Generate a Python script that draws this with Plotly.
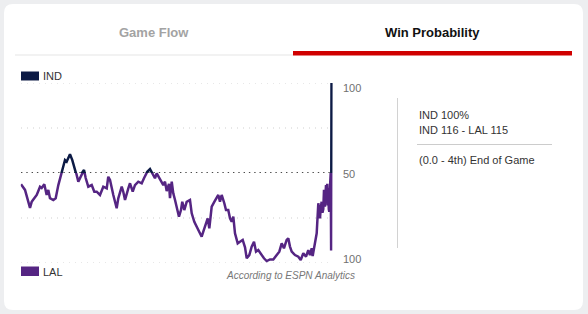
import plotly.graph_objects as go

# ---------------- data ----------------
teams = ["IND", "LAL"]
team_colors = ["#0c1a45", "#552583"]

# game clock elapsed (minutes) and IND win probability (%)
minutes = [
    0.00, 0.62, 1.39, 1.65, 1.85, 2.43, 2.94, 3.20, 3.60, 3.97, 4.22, 4.48, 4.99, 5.36,
    5.77, 6.03, 6.29, 6.80, 7.06, 7.57, 7.93, 8.35, 8.86, 9.38, 9.74, 10.00, 10.40, 10.93,
    11.33, 11.70, 12.21, 12.72, 13.25, 13.49, 13.76, 14.27, 14.79, 15.04, 15.57, 15.81,
    16.08, 16.59, 16.85, 17.27, 17.62, 18.13, 18.66, 19.01, 19.52, 19.94, 20.36, 20.71,
    20.98, 21.49, 22.00, 22.26, 22.52, 22.88, 23.03, 23.30, 23.54, 23.81, 24.22, 24.42,
    24.73, 24.93, 25.24, 25.61, 26.12, 26.39, 26.79, 27.16, 27.41, 27.93, 28.18, 28.55,
    28.86, 29.11, 29.48, 29.88, 30.25, 30.50, 30.76, 31.02, 31.43, 31.69, 32.04, 32.31,
    32.57, 32.82, 33.08, 33.50, 33.85, 34.27, 34.63, 34.89, 35.29, 35.66, 36.02, 36.33,
    36.68, 37.21, 37.56, 37.98, 38.49, 39.00, 39.53, 39.93, 40.30, 40.65, 41.07, 41.32,
    41.58, 41.85, 42.36, 42.87, 43.24, 43.64, 44.06, 44.41, 44.67, 44.94, 45.09, 45.45,
    45.71, 45.96, 46.10, 46.22, 46.35, 46.48, 46.60, 46.73, 46.84, 46.99, 47.07, 47.15,
    47.26, 47.34, 47.41, 47.50, 47.58, 47.66, 47.73, 47.80, 47.88, 47.94, 48.00,
]
ind_prob = [
    43.7, 40.6, 30.6, 34.0, 35.0, 37.8, 42.4, 41.7, 43.7, 37.8, 40.6, 36.0, 35.0, 36.0,
    43.3, 47.2, 50.7, 57.2, 56.3, 60.4, 57.2, 52.6, 45.2, 49.8, 51.7, 47.2, 42.4, 43.3,
    39.6, 39.6, 37.8, 42.4, 41.5, 47.9, 46.1, 37.8, 30.4, 35.9, 42.4, 39.6,
    35.0, 41.5, 44.3, 39.6, 43.3, 45.2, 44.3, 47.1, 50.7, 52.2, 49.8, 47.1,
    49.8, 46.1, 43.3, 45.2, 40.0, 44.0, 36.0, 45.2, 38.7, 35.0, 27.6, 25.7,
    29.4, 34.0, 29.4, 34.0, 35.0, 27.6, 22.9, 20.2, 18.3, 14.6, 17.4, 21.1,
    24.8, 19.3, 31.3, 34.0, 35.9, 37.8, 34.0, 37.8, 33.2, 29.4, 29.4, 24.8,
    22.9, 25.7, 16.5, 10.9, 11.8, 12.8, 8.7, 2.6, 4.4, 9.1, 11.8, 6.3,
    7.2, 4.4, 2.6, 1.1, 2.0, 2.0, 4.4, 6.3, 10.9, 8.2, 12.8, 13.7,
    9.1, 6.3, 4.4, 3.5, 1.7, 5.4, 3.5, 7.2, 4.4, 8.2, 3.9, 12.8,
    16.5, 33.2, 27.0, 24.8, 31.0, 34.0, 28.0, 30.0, 40.6, 31.3, 38.0, 43.3,
    36.0, 44.0, 32.0, 41.5, 30.0, 28.5, 40.0, 45.0, 50.0, 7.0, 100.0,
]

tab_labels = ["Game Flow", "Win Probability"]
axis_labels = ["100", "50", "100"]
info_lines = ["IND 100%", "IND 116 - LAL 115", "(0.0 - 4th) End of Game"]
source_note = "According to ESPN Analytics"

# ---------------- layout helpers ----------------
W, H = 588, 314
FONT = "Liberation Sans, Arial, sans-serif"


def px(x):
    return x / W


def py(y):
    return 1 - y / H


fig = go.Figure()

# IND half (above 50) and LAL half (below 50): same series, clipped per subplot
fig.add_trace(go.Scatter(x=minutes, y=ind_prob, mode="lines", xaxis="x", yaxis="y",
                         line=dict(color=team_colors[0], width=2.5),
                         hoverinfo="skip", showlegend=False))
fig.add_trace(go.Scatter(x=minutes, y=ind_prob, mode="lines", xaxis="x", yaxis="y2",
                         line=dict(color=team_colors[1], width=2.5),
                         hoverinfo="skip", showlegend=False))

shapes = []

# white rounded card
x0, x1 = px(4), px(583)
yt, yb = py(4), py(310)
rx, ry = 9 / W, 9 / H
card_path = (
    f"M {x0+rx},{yt} L {x1-rx},{yt} Q {x1},{yt} {x1},{yt-ry} "
    f"L {x1},{yb+ry} Q {x1},{yb} {x1-rx},{yb} "
    f"L {x0+rx},{yb} Q {x0},{yb} {x0},{yb+ry} "
    f"L {x0},{yt-ry} Q {x0},{yt} {x0+rx},{yt} Z"
)
shapes.append(dict(type="path", path=card_path, xref="paper", yref="paper",
                   fillcolor="white", line=dict(width=0), layer="below"))

# tab underline (gray) and active tab bar (red)
shapes.append(dict(type="rect", xref="paper", yref="paper",
                   x0=px(15), x1=px(293), y0=py(55.5), y1=py(54.5),
                   fillcolor="#e6e6e6", line=dict(width=0)))
shapes.append(dict(type="rect", xref="paper", yref="paper",
                   x0=px(293), x1=px(572), y0=py(55.5), y1=py(51),
                   fillcolor="#d00000", line=dict(width=0)))

# gridlines
gx0, gx1 = px(21), px(330)
for val, ref in [(100, "y"), (75, "y"), (25, "y2"), (0, "y2")]:
    shapes.append(dict(type="line", xref="paper", yref=ref, x0=gx0, x1=gx1,
                       y0=val, y1=val, layer="below",
                       line=dict(color="#cfcfcf", width=1, dash="1px,5px")))
shapes.append(dict(type="line", xref="paper", yref="y", x0=gx0, x1=px(331),
                   y0=50, y1=50, layer="below",
                   line=dict(color="#111111", width=1.4, dash="1.4px,3.9px")))

# legend swatches
shapes.append(dict(type="rect", xref="paper", yref="paper",
                   x0=px(21), x1=px(39), y0=py(80.5), y1=py(71.5),
                   fillcolor=team_colors[0], line=dict(width=0)))
shapes.append(dict(type="rect", xref="paper", yref="paper",
                   x0=px(21), x1=px(39), y0=py(276), y1=py(266.5),
                   fillcolor=team_colors[1], line=dict(width=0)))

# info panel separators
shapes.append(dict(type="line", xref="paper", yref="paper",
                   x0=px(397.5), x1=px(397.5), y0=py(98), y1=py(248),
                   line=dict(color="#d2d2d2", width=1)))
shapes.append(dict(type="line", xref="paper", yref="paper",
                   x0=px(417), x1=px(552), y0=py(144.5), y1=py(144.5),
                   line=dict(color="#cccccc", width=1)))

ann = []
# tabs
ann.append(dict(text=f"<b>{tab_labels[0]}</b>", x=px(154), y=py(32.5),
                font=dict(size=13, color="#a3a3a3", family=FONT)))
ann.append(dict(text=f"<b>{tab_labels[1]}</b>", x=px(432), y=py(32.5),
                font=dict(size=13, color="#111111", family=FONT)))
# legend labels
ann.append(dict(text=teams[0], x=px(41), y=py(76), xanchor="left",
                font=dict(size=11, color="#333333", family=FONT)))
ann.append(dict(text=teams[1], x=px(41), y=py(271.5), xanchor="left",
                font=dict(size=11, color="#333333", family=FONT)))
# right-side probability labels
label_pos = [88, 173.5, 259]
for t, ypos in zip(axis_labels, label_pos):
    ann.append(dict(text=t, x=px(341), y=py(ypos), xanchor="left",
                    font=dict(size=11, color="#707070", family=FONT)))
# info panel
for t, ypos in zip(info_lines, [115.5, 129.5, 160]):
    ann.append(dict(text=t, x=px(416.5), y=py(ypos), xanchor="left",
                    font=dict(size=11, color="#333333", family=FONT)))
# source
ann.append(dict(text=f"<i>{source_note}</i>", x=px(357), y=py(275), xanchor="right",
                font=dict(size=10, color="#777777", family=FONT)))

for a in ann:
    a.update(xref="paper", yref="paper", showarrow=False, yanchor="middle")
    a.setdefault("xanchor", "center")

fig.update_layout(
    width=W, height=H,
    margin=dict(l=0, r=0, t=0, b=0),
    paper_bgcolor="#edeef0",
    plot_bgcolor="rgba(0,0,0,0)",
    xaxis=dict(domain=[20.68 / W, 332.8 / W], range=[-0.05, 48.2], visible=False,
               anchor="y2", fixedrange=True),
    yaxis=dict(domain=[py(173), py(83)], range=[50, 100], visible=False,
               anchor="x", fixedrange=True),
    yaxis2=dict(domain=[py(263), py(173)], range=[0, 50], visible=False,
                anchor="x", fixedrange=True),
    shapes=shapes,
    annotations=ann,
    showlegend=False,
    font=dict(family=FONT),
)

fig.write_html("out.html", config=dict(displayModeBar=False))
